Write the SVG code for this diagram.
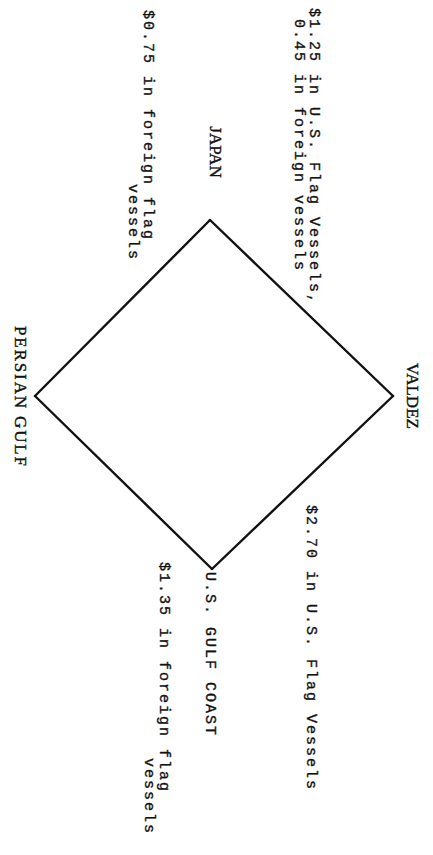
<svg xmlns="http://www.w3.org/2000/svg" width="433" height="855" viewBox="0 0 433 855">
<style>
.bg{fill:#fff}
.edge{stroke:#111;stroke-width:2.4;stroke-linecap:round;fill:none}
.mono{font-family:"Liberation Mono","DejaVu Sans Mono",monospace;font-size:15px;letter-spacing:2px;fill:#111;stroke:#111;stroke-width:0.35}
.serif{font-family:"Liberation Serif","DejaVu Serif",serif;font-size:17px;fill:#111;stroke:#111;stroke-width:0.4}
</style>
<rect class="bg" x="0" y="0" width="433" height="855"/>
<g id="connectors">
<line id="e-japan-valdez" class="edge" x1="210" y1="220" x2="393" y2="396"/>
<line id="e-valdez-gulfcoast" class="edge" x1="393" y1="396" x2="212" y2="569"/>
<line id="e-gulfcoast-persian" class="edge" x1="212" y1="569" x2="35" y2="396"/>
<line id="e-persian-japan" class="edge" x1="35" y1="396" x2="210" y2="220"/>
</g>
<g id="node-japan"><text class="serif" text-anchor="middle" transform="translate(210,152) rotate(90)">JAPAN</text></g>
<g id="node-valdez"><text class="serif" text-anchor="middle" transform="translate(407,396) rotate(90)">VALDEZ</text></g>
<g id="node-persian-gulf"><text class="serif" text-anchor="middle" textLength="140" lengthAdjust="spacing" transform="translate(15,396) rotate(90)">PERSIAN GULF</text></g>
<g id="node-us-gulf-coast"><text class="mono" transform="translate(206,572) rotate(90)">U.S. GULF COAST</text></g>
<g id="edge-labels">
<text class="mono" transform="translate(310,8) rotate(90)">$1.25 in U.S. Flag Vessels,</text>
<text class="mono" transform="translate(295,19) rotate(90)">0.45 in foreign vessels</text>
<text class="mono" transform="translate(144,10) rotate(90)">$0.75 in foreign flag</text>
<text class="mono" transform="translate(129,184) rotate(90)">vessels</text>
<text class="mono" transform="translate(307,505) rotate(90)">$2.70 in U.S. Flag Vessels</text>
<text class="mono" transform="translate(160,562) rotate(90)">$1.35 in foreign flag</text>
<text class="mono" transform="translate(145,758) rotate(90)">vessels</text>
</g>
</svg>
